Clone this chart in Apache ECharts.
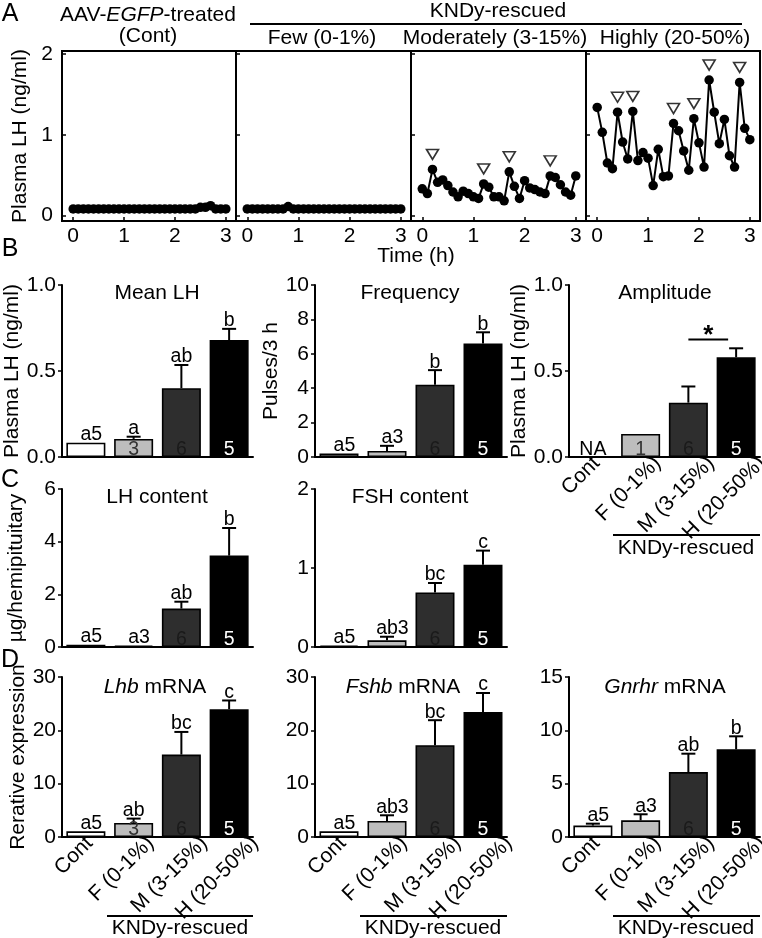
<!DOCTYPE html>
<html>
<head>
<meta charset="utf-8">
<script src="https://cdn.jsdelivr.net/npm/echarts@6.0.0/dist/echarts.min.js"></script>
<style>
html,body{margin:0;padding:0;background:#fff;}
#chart{width:762px;height:938px;}
</style>
</head>
<body>
<div id="chart"></div>
<script>
const FONT = '"Liberation Sans", Arial, Helvetica, sans-serif';

// ---------- Panel A: LH pulse profiles ----------
const timeH = [0,0.1,0.2,0.3,0.4,0.5,0.6,0.7,0.8,0.9,1.0,1.1,1.2,1.3,1.4,1.5,1.6,1.7,1.8,1.9,2.0,2.1,2.2,2.3,2.4,2.5,2.6,2.7,2.8,2.9,3.0];
const lhCont = [0.08,0.08,0.08,0.08,0.08,0.08,0.08,0.08,0.08,0.08,0.08,0.08,0.08,0.08,0.08,0.08,0.08,0.08,0.08,0.08,0.08,0.08,0.08,0.08,0.08,0.10,0.10,0.12,0.08,0.08,0.08];
const lhFew = [0.08,0.08,0.08,0.08,0.08,0.08,0.08,0.08,0.11,0.08,0.08,0.08,0.08,0.08,0.08,0.08,0.08,0.08,0.08,0.08,0.08,0.08,0.08,0.08,0.08,0.08,0.08,0.08,0.08,0.08,0.08];
const lhModerate = [0.33,0.27,0.57,0.41,0.44,0.37,0.29,0.23,0.30,0.27,0.23,0.21,0.39,0.35,0.23,0.23,0.18,0.54,0.36,0.21,0.43,0.34,0.32,0.29,0.27,0.49,0.47,0.38,0.29,0.25,0.49];
const lhHigh = [1.34,1.03,0.65,0.58,1.28,0.91,0.70,1.29,0.68,0.78,0.71,0.37,0.82,0.48,0.49,1.14,1.05,0.80,0.56,1.20,0.90,0.60,1.68,1.28,0.89,1.19,0.74,0.60,1.65,1.08,0.94];
const pulseIdxModerate = [2,12,17,25];
const pulseIdxHigh = [4,7,15,19,22,28];
const timeTicks = [0,1,2,3];
const lhTicks = [0,1,2];
const panelAHeaders = ['Few (0-1%)','Moderately (3-15%)','Highly (20-50%)'];

// ---------- Panels B-D: group bar charts ----------
const groups = ['Cont','F (0-1%)','M (3-15%)','H (20-50%)'];

const meanLH      = [0.083, 0.105, 0.40, 0.68];
const meanLHErr   = [null, 0.118, 0.535, 0.745];
const meanLHSig   = ['a','a','ab','b'];
const meanLHNTop  = ['5','','',''];
const meanLHNIn   = ['','3','6','5'];

const freq        = [0.2, 0.35, 4.2, 6.6];
const freqErr     = [null, 0.65, 5.05, 7.25];
const freqSig     = ['a','a','b','b'];
const freqNTop    = ['5','3','',''];
const freqNIn     = ['','','6','5'];

const ampl        = [null, 0.134, 0.316, 0.58];
const amplErr     = [null, null, 0.41, 0.632];
const amplSig     = ['','','',''];
const amplNTop    = ['','','',''];
const amplNIn     = ['NA','1','6','5'];
const amplBracket = {from:2, to:3, value:0.683, mark:'*'};

const lhContent     = [0.09, 0.05, 1.46, 3.47];
const lhContentErr  = [null, null, 1.72, 4.52];
const lhContentSig  = ['a','a','ab','b'];
const lhContentNTop = ['5','3','',''];
const lhContentNIn  = ['','','6','5'];

const fshContent     = [0.02, 0.085, 0.69, 1.04];
const fshContentErr  = [null, 0.13, 0.81, 1.22];
const fshContentSig  = ['a','ab','bc','c'];
const fshContentNTop = ['5','3','',''];
const fshContentNIn  = ['','','6','5'];

const lhb     = [1.07, 2.63, 15.45, 23.96];
const lhbErr  = [null, 3.45, 19.7, 25.6];
const lhbSig  = ['a','ab','bc','c'];
const lhbNTop = ['5','','',''];
const lhbNIn  = ['','3','6','5'];

const fshb     = [1.07, 3.0, 17.2, 23.45];
const fshbErr  = [null, 4.07, 21.9, 27.0];
const fshbSig  = ['a','ab','bc','c'];
const fshbNTop = ['5','3','',''];
const fshbNIn  = ['','','6','5'];

const gnrhr     = [1.07, 1.56, 6.09, 8.22];
const gnrhrErr  = [1.25, 2.13, 7.81, 9.44];
const gnrhrSig  = ['a','a','ab','b'];
const gnrhrNTop = ['5','3','',''];
const gnrhrNIn  = ['','','6','5'];

// ---------- styling ----------
const barFill = ['#ffffff','#bdbdbd','#2e2e2e','#000000'];
const nColor  = ['#000000','#333333','#1a1a1a','#ffffff'];

const mctx = document.createElement('canvas').getContext('2d');
function textW(t, size, extra) {
  mctx.font = (extra ? extra + ' ' : '') + size + 'px ' + FONT;
  return mctx.measureText(t).width;
}
function tEl(x, y, text, size, align, valign, fill, extra) {
  const st = {text: text, fill: fill || '#000', fontSize: size, fontFamily: FONT,
    align: align, verticalAlign: valign, textAlign: align, textVerticalAlign: valign};
  if (extra) Object.assign(st, extra);
  return {type: 'text', x: x, y: y, silent: true, style: st};
}

const option = {animation: false, backgroundColor: '#fff', grid: [], xAxis: [], yAxis: [], series: [], graphic: []};
const axLine = {color: '#000', width: 2};

// Panel A
const gridsA = [[62,51,174,170],[236,51,175,170],[411,51,175,170],[586,51,174,170]];
const panelA = [
  {data: lhCont, pulses: []},
  {data: lhFew, pulses: []},
  {data: lhModerate, pulses: pulseIdxModerate},
  {data: lhHigh, pulses: pulseIdxHigh}
];
gridsA.forEach((g, k) => {
  option.grid.push({left: g[0], top: g[1], width: g[2], height: g[3], show: true,
    borderColor: '#000', borderWidth: 2, backgroundColor: 'transparent', containLabel: false, outerBoundsMode: 'none'});
  option.xAxis.push({type: 'value', gridIndex: k, min: -0.22, max: 3.2,
    axisLine: {show: true, onZero: false, lineStyle: axLine},
    axisTick: {show: true, inside: true, length: 4, customValues: timeTicks, lineStyle: {color: '#000', width: 1.5}},
    axisLabel: {show: true, customValues: timeTicks, color: '#000', fontSize: 21, fontFamily: FONT, margin: 5},
    splitLine: {show: false}});
  option.yAxis.push({type: 'value', gridIndex: k, min: -0.07, max: 2.04,
    axisLine: {show: true, onZero: false, lineStyle: axLine},
    axisTick: {show: true, inside: true, length: 4, customValues: lhTicks, lineStyle: {color: '#000', width: 1.5}},
    axisLabel: {show: k === 0, customValues: lhTicks, color: '#000', fontSize: 21, fontFamily: FONT, margin: 9},
    splitLine: {show: false},
    name: k === 0 ? 'Plasma LH (ng/ml)' : '', nameLocation: 'middle', nameGap: 31,
    nameTextStyle: {color: '#000', fontSize: 21, fontFamily: FONT}});
  const d = panelA[k];
  option.series.push({type: 'line', xAxisIndex: k, yAxisIndex: k,
    data: timeH.map((t, i) => [t, d.data[i]]), symbol: 'circle', symbolSize: 9.5, showSymbol: true,
    lineStyle: {color: '#000', width: 2}, itemStyle: {color: '#000'}, z: 3, silent: true});
  if (d.pulses.length) {
    option.series.push({type: 'scatter', xAxisIndex: k, yAxisIndex: k,
      data: d.pulses.map(i => [timeH[i], d.data[i]]),
      symbol: 'path://M0,0L10,0L5,9Z', symbolSize: [12, 10], symbolOffset: [0, -15],
      itemStyle: {color: '#fff', borderColor: '#000', borderWidth: 1.6}, z: 4, silent: true});
  }
});

// Bar charts
const barCharts = [
  {grid: [62,285,191,172], max: 1, interval: 0.5, dec: 1, name: 'Plasma LH (ng/ml)', gap: 31,
   vals: meanLH, errs: meanLHErr, sig: meanLHSig, nTop: meanLHNTop, nIn: meanLHNIn, cats: false},
  {grid: [315,285,192,172], max: 10, interval: 2, dec: 0, name: 'Pulses/3 h', gap: 30,
   vals: freq, errs: freqErr, sig: freqSig, nTop: freqNTop, nIn: freqNIn, cats: false},
  {grid: [569,285,191,172], max: 1, interval: 0.5, dec: 1, name: 'Plasma LH (ng/ml)', gap: 31,
   vals: ampl, errs: amplErr, sig: amplSig, nTop: amplNTop, nIn: amplNIn, cats: true, bracket: amplBracket},
  {grid: [62,489,191,158], max: 6, interval: 2, dec: 0, name: 'µg/hemipituitary', gap: 35,
   vals: lhContent, errs: lhContentErr, sig: lhContentSig, nTop: lhContentNTop, nIn: lhContentNIn, cats: false},
  {grid: [315,489,192,158], max: 2, interval: 1, dec: 0, name: '', gap: 30,
   vals: fshContent, errs: fshContentErr, sig: fshContentSig, nTop: fshContentNTop, nIn: fshContentNIn, cats: false},
  {grid: [62,677,191,160], max: 30, interval: 10, dec: 0, name: 'Rerative expression', gap: 31,
   vals: lhb, errs: lhbErr, sig: lhbSig, nTop: lhbNTop, nIn: lhbNIn, cats: true},
  {grid: [315,677,192,160], max: 30, interval: 10, dec: 0, name: '', gap: 30,
   vals: fshb, errs: fshbErr, sig: fshbSig, nTop: fshbNTop, nIn: fshbNIn, cats: true},
  {grid: [569,677,191,160], max: 15, interval: 5, dec: 0, name: '', gap: 30,
   vals: gnrhr, errs: gnrhrErr, sig: gnrhrSig, nTop: gnrhrNTop, nIn: gnrhrNIn, cats: true}
];

function makeRender(c) {
  return function (params, api) {
    const i = params.dataIndex;
    const base = api.coord([i, 0]);
    const cx = base[0], y0 = base[1];
    const ch = [];
    let top = c.vals[i] != null ? api.coord([i, c.vals[i]])[1] : y0;
    if (c.errs[i] != null) {
      const ey = api.coord([i, c.errs[i]])[1];
      ch.push({type: 'line', silent: true, shape: {x1: cx, y1: top, x2: cx, y2: ey}, style: {stroke: '#000', lineWidth: 2}});
      ch.push({type: 'line', silent: true, shape: {x1: cx - 7, y1: ey, x2: cx + 7, y2: ey}, style: {stroke: '#000', lineWidth: 2}});
      top = ey;
    }
    if (c.sig[i]) ch.push(tEl(cx, top + 2, c.sig[i], 19.5, 'center', 'bottom', '#000'));
    if (c.nTop[i]) ch.push(tEl(cx + textW(c.sig[i], 19.5) / 2, top + 2, c.nTop[i], 19.5, 'left', 'bottom', '#000'));
    if (c.nIn[i]) ch.push(tEl(cx, y0 + 3, c.nIn[i], 19.5, 'center', 'bottom', c.vals[i] == null ? '#000' : nColor[i]));
    if (c.cats) {
      const L = textW(groups[i], 21);
      const el = tEl(cx - 12, y0 + L * 0.354 + 3, groups[i], 21, 'center', 'middle', '#000');
      el.rotation = Math.PI / 4;
      ch.push(el);
    }
    if (c.bracket && i === c.bracket.to) {
      const x1 = api.coord([c.bracket.from, 0])[0];
      const x2 = cx - 8;
      const by = api.coord([i, c.bracket.value])[1];
      ch.push({type: 'line', silent: true, shape: {x1: x1, y1: by, x2: x2, y2: by}, style: {stroke: '#000', lineWidth: 2}});
      ch.push(tEl((x1 + x2) / 2, by - 4, c.bracket.mark, 26, 'center', 'middle', '#000', {fontWeight: 'bold'}));
    }
    return {type: 'group', children: ch};
  };
}

barCharts.forEach((c, j) => {
  const k = 4 + j;
  const g = c.grid;
  option.grid.push({left: g[0], top: g[1], width: g[2], height: g[3], show: false, containLabel: false, outerBoundsMode: 'none'});
  option.xAxis.push({type: 'category', gridIndex: k, data: groups, boundaryGap: true,
    axisLine: {show: true, onZero: false, lineStyle: {color: '#000', width: 2}},
    axisTick: {show: false}, axisLabel: {show: false}, splitLine: {show: false}});
  option.yAxis.push({type: 'value', gridIndex: k, min: 0, max: c.max, interval: c.interval,
    axisLine: {show: true, onZero: false, lineStyle: {color: '#000', width: 2}},
    axisTick: {show: true, inside: false, length: 4, lineStyle: {color: '#000', width: 1.5}},
    axisLabel: {color: '#000', fontSize: 21, fontFamily: FONT, margin: 6, formatter: v => v.toFixed(c.dec)},
    splitLine: {show: false},
    name: c.name, nameLocation: 'middle', nameGap: c.gap,
    nameTextStyle: {color: '#000', fontSize: 21, fontFamily: FONT}});
  option.series.push({type: 'bar', xAxisIndex: k, yAxisIndex: k, barWidth: 39, silent: true,
    data: c.vals.map((v, i) => ({value: v, itemStyle: {color: barFill[i]}})),
    itemStyle: {borderColor: '#000', borderWidth: 1.6}, z: 2});
  option.series.push({type: 'custom', xAxisIndex: k, yAxisIndex: k, silent: true, clip: false, z: 5,
    data: groups.map((gname, i) => [i, 0]), renderItem: makeRender(c)});
});

// Decorative text and lines
function gText(x, y, text, size, extra) {
  return tEl(x, y, text, size || 21, 'center', 'middle', '#000', extra);
}
function gLine(x1, y1, x2, y2) {
  return {type: 'line', silent: true, shape: {x1: x1, y1: y1, x2: x2, y2: y2}, style: {stroke: '#000', lineWidth: 1.8}};
}
const italicRich = {i: {fontStyle: 'italic', fontSize: 21, fontFamily: FONT, fill: '#000'}};
option.graphic = [
  gText(10, 14, 'A', 25), gText(10, 249, 'B', 25), gText(10, 480, 'C', 25), gText(10, 660, 'D', 25),
  gText(148, 15, 'AAV-{i|EGFP}-treated', 21, {rich: italicRich}),
  gText(148, 36, '(Cont)', 21),
  gText(498, 11, 'KNDy-rescued', 21),
  gLine(250, 24, 742, 24),
  gText(322, 38, panelAHeaders[0], 21),
  gText(495, 38, panelAHeaders[1], 21),
  gText(675, 38, panelAHeaders[2], 21),
  gText(416, 256, 'Time (h)', 21),
  gText(157, 293, 'Mean LH', 21),
  gText(410, 293, 'Frequency', 21),
  gText(665, 293, 'Amplitude', 21),
  gText(157, 497, 'LH content', 21),
  gText(410, 497, 'FSH content', 21),
  gText(155, 687, '{i|Lhb} mRNA', 21, {rich: italicRich}),
  gText(403, 687, '{i|Fshb} mRNA', 21, {rich: italicRich}),
  gText(665, 687, '{i|Gnrhr} mRNA', 21, {rich: italicRich}),
  gLine(613, 535, 760, 535), gText(686, 548, 'KNDy-rescued', 21),
  gLine(107, 916, 253, 916), gText(180, 928, 'KNDy-rescued', 21),
  gLine(360, 916, 507, 916), gText(433, 928, 'KNDy-rescued', 21),
  gLine(613, 916, 760, 916), gText(686, 928, 'KNDy-rescued', 21)
];

const chart = echarts.init(document.getElementById('chart'), null, {renderer: 'canvas'});
chart.setOption(option);
</script>
</body>
</html>
